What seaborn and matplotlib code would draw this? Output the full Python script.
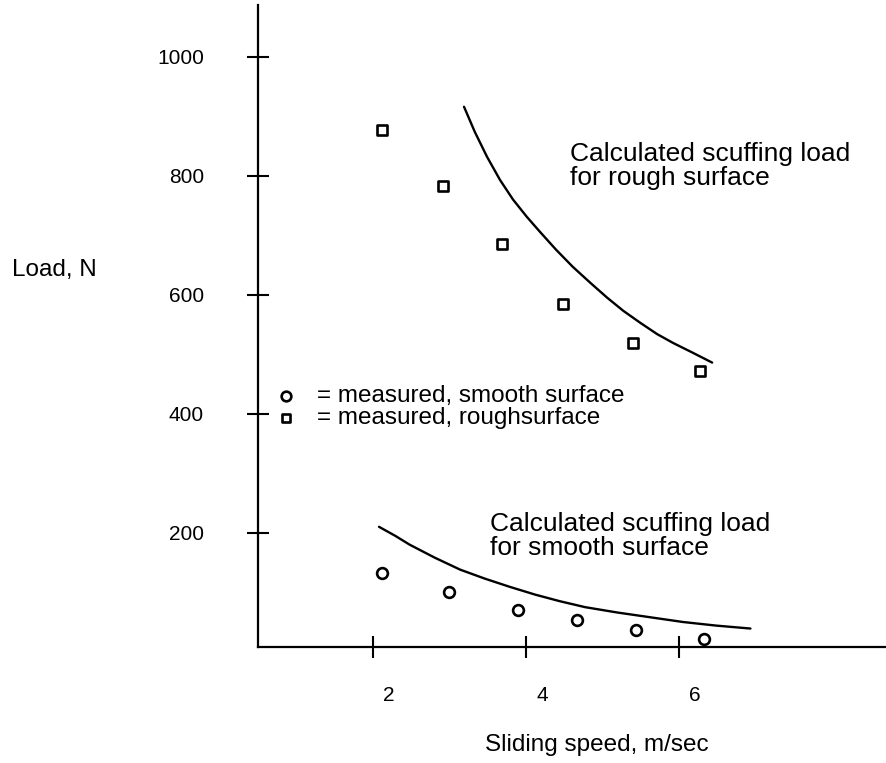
import matplotlib
matplotlib.use("Agg")
import matplotlib.pyplot as plt
from matplotlib.transforms import ScaledTranslation
import pandas as pd
import seaborn as sns

# Measured scuffing loads (N) against sliding speed (m/s)
smooth_speed = [2.12, 2.99, 3.90, 4.67, 5.44, 6.33]
smooth_load = [133, 101, 71, 54, 37, 22]
rough_speed = [2.12, 2.92, 3.69, 4.48, 5.39, 6.27]
rough_load = [877, 782, 686, 585, 519, 472]

# Calculated scuffing load curves
calc_rough_speed = [3.19, 3.33, 3.49, 3.66, 3.83, 4.01, 4.18, 4.39, 4.61,
                    4.84, 5.06, 5.27, 5.49, 5.71, 5.92, 6.17, 6.43]
calc_rough_load = [916, 874, 832, 793, 760, 731, 706, 676, 647,
                   620, 595, 573, 553, 534, 519, 503, 486]
calc_smooth_speed = [2.08, 2.29, 2.48, 2.81, 3.14, 3.46, 3.79, 4.12, 4.44,
                     4.77, 5.19, 5.62, 6.05, 6.48, 6.93]
calc_smooth_load = [210, 195, 180, 158, 138, 123, 109, 96, 85,
                    75, 66, 58, 50, 44, 39]

x_ticks = [2, 4, 6]
y_ticks = [200, 400, 600, 800, 1000]
y_tick_labels = ["200", "400", "600", "800", "1000"]

sns.set_theme(style="white")
plt.rcParams["font.family"] = ["Liberation Sans", "DejaVu Sans"]
plt.rcParams["text.color"] = "black"

fig = plt.figure(figsize=(8.86, 7.63), dpi=100)
ax = fig.add_axes([258 / 886, 116 / 763, 628 / 886, 642 / 763])

smooth_df = pd.DataFrame({"speed": smooth_speed, "load": smooth_load})
rough_df = pd.DataFrame({"speed": rough_speed, "load": rough_load})

sns.lineplot(x=calc_rough_speed, y=calc_rough_load, sort=False, color="black",
             linewidth=1.7, ax=ax)
sns.lineplot(x=calc_smooth_speed, y=calc_smooth_load, sort=False, color="black",
             linewidth=1.7, ax=ax)
sns.scatterplot(data=smooth_df, x="speed", y="load", marker="o", s=60,
                facecolor="white", edgecolor="black", linewidth=1.9, ax=ax,
                label="= measured, smooth surface", zorder=3)
sns.scatterplot(data=rough_df, x="speed", y="load", marker="s", s=48,
                facecolor="white", edgecolor="black", linewidth=1.9, ax=ax,
                label="= measured, roughsurface", zorder=3)

ax.set_xlim(0.5, 8.7)
ax.set_ylim(8, 1087)

for side in ("top", "right"):
    ax.spines[side].set_visible(False)
for side in ("left", "bottom"):
    ax.spines[side].set_color("black")
    ax.spines[side].set_linewidth(1.6)

ax.set_xticks(x_ticks)
ax.set_xticklabels([str(v) for v in x_ticks])
ax.set_yticks(y_ticks)
ax.set_yticklabels(y_tick_labels)
ax.tick_params(axis="both", direction="inout", length=16, width=1.5,
               colors="black", labelsize=15, bottom=True, left=True)
ax.tick_params(axis="x", pad=20)
ax.tick_params(axis="y", pad=31)
for lab in ax.get_xticklabels():
    lab.set_transform(lab.get_transform()
                      + ScaledTranslation(16 / 100, 0, fig.dpi_scale_trans))

ax.set_xlabel("Sliding speed, m/sec", fontsize=17.5, color="black",
              va="center")
ax.xaxis.set_label_coords(0.540, -0.152)
ax.set_ylabel("Load, N", fontsize=17.5, color="black", rotation=0,
              ha="center", va="center")
ax.yaxis.set_label_coords(-0.324, 0.587)

ax.text(0.497, 0.787, "Calculated scuffing load\nfor rough surface",
        transform=ax.transAxes, fontsize=19, ha="left", va="top",
        linespacing=1.0, color="black")
ax.text(0.369, 0.210, "Calculated scuffing load\nfor smooth surface",
        transform=ax.transAxes, fontsize=19, ha="left", va="top",
        linespacing=1.0, color="black")

ax.legend(loc="upper left", bbox_to_anchor=(274 / 886, 1 - 385 / 763),
          bbox_transform=fig.transFigure, frameon=False, fontsize=17.5,
          handlelength=1.0, handletextpad=0.75, labelspacing=0.0,
          borderpad=0, borderaxespad=0, markerscale=0.9)

fig.savefig("out.png", dpi=100, facecolor="white")
